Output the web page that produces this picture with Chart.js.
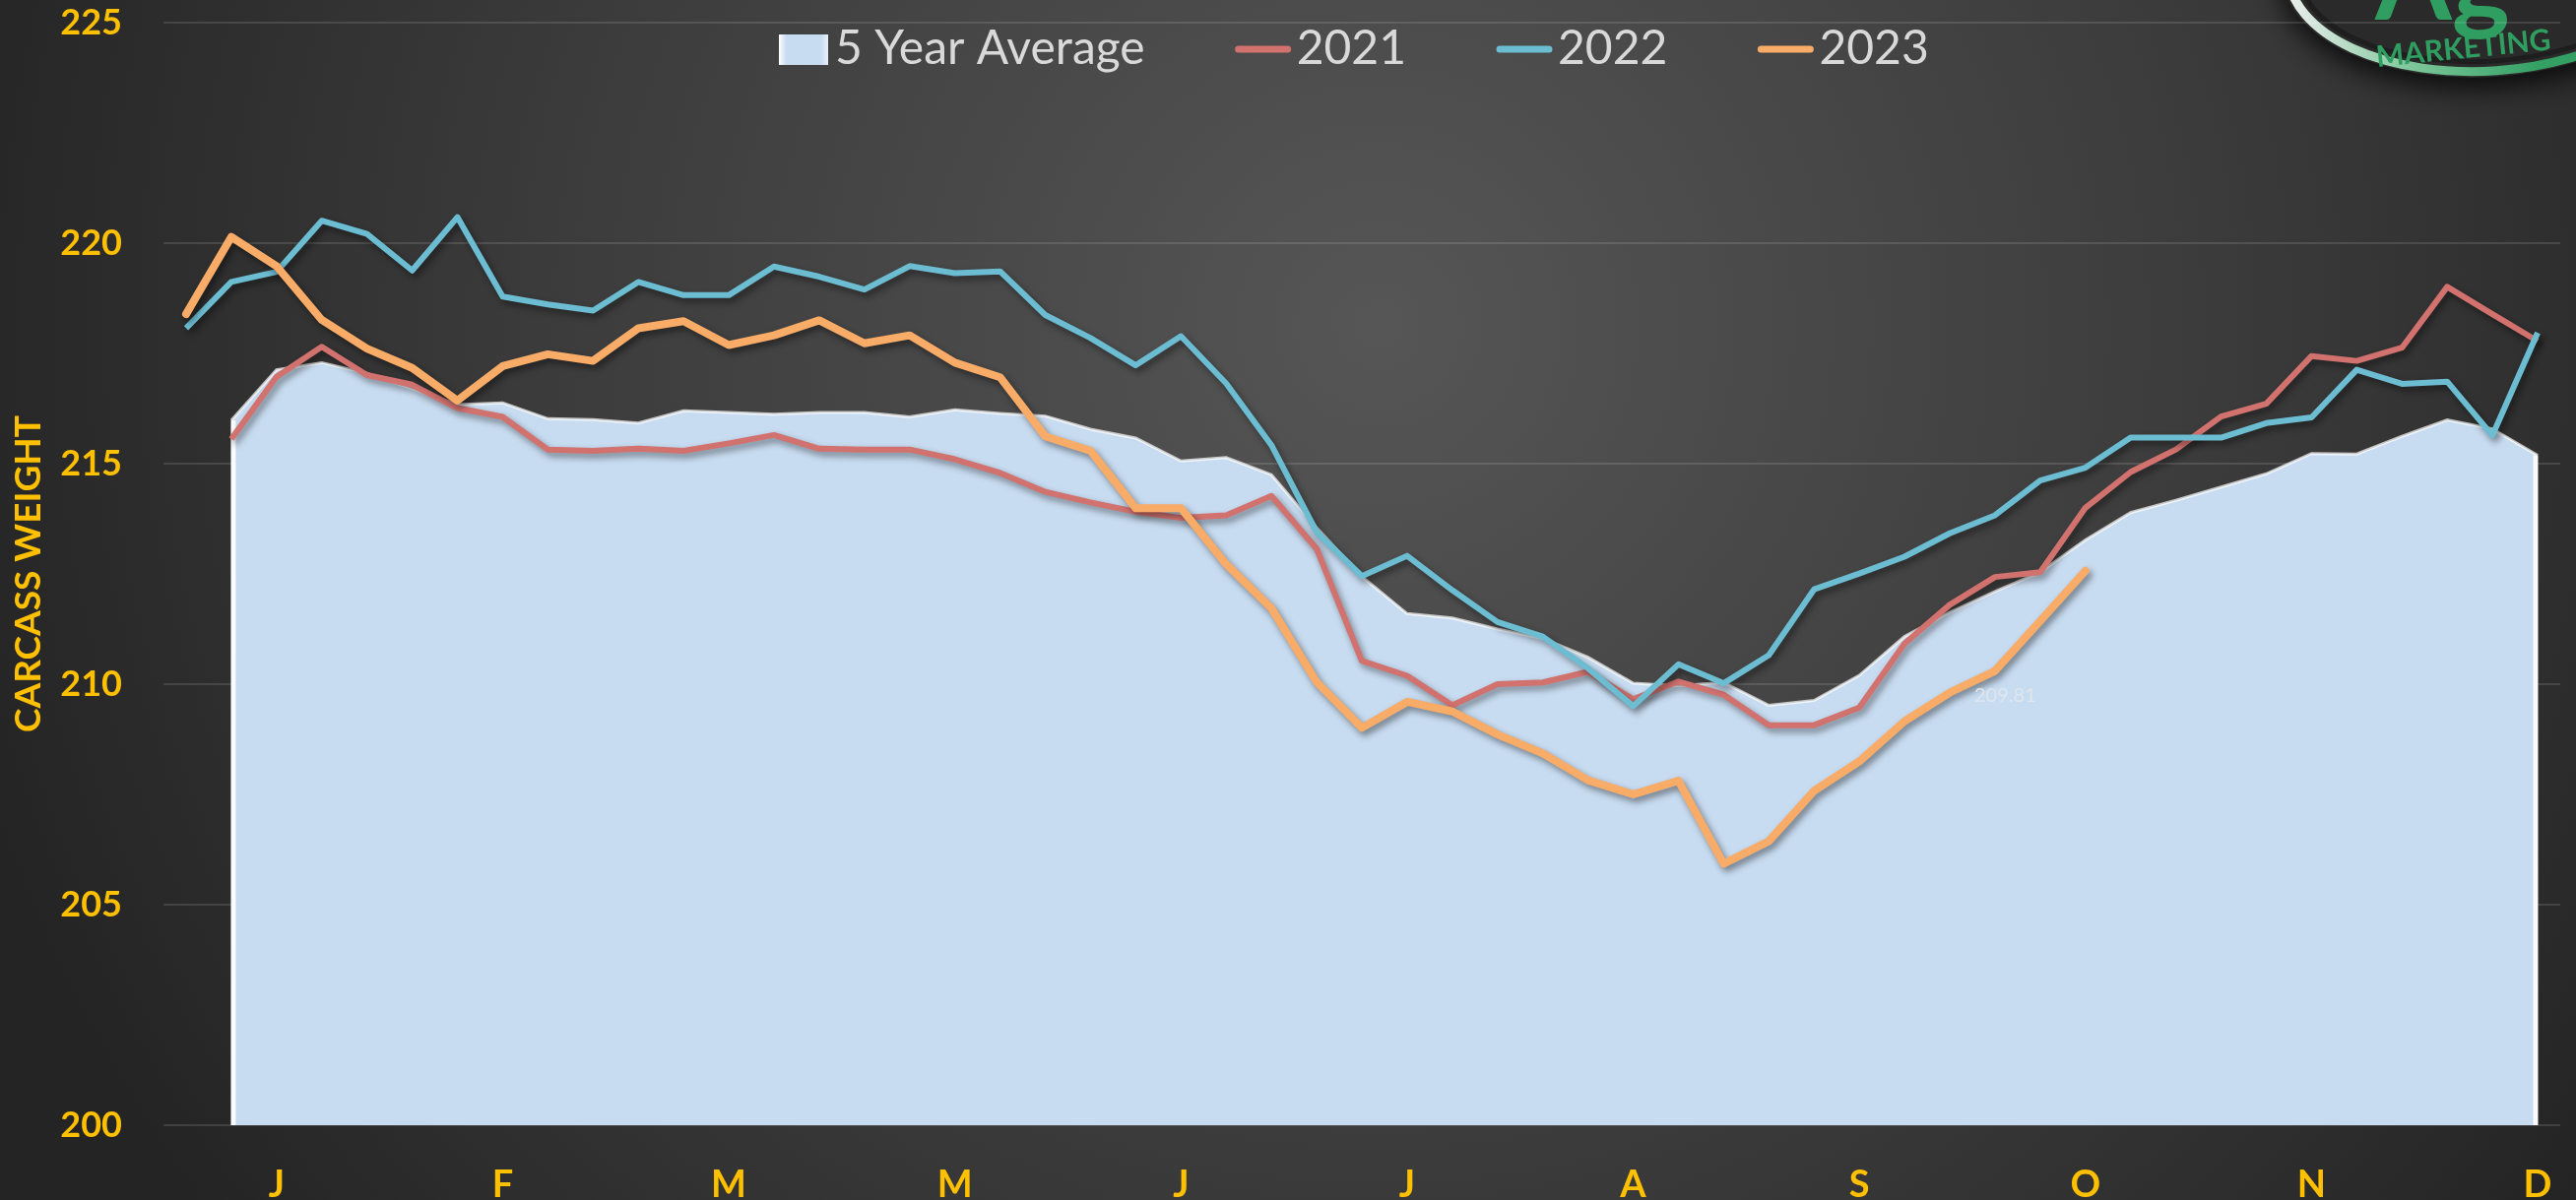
<!DOCTYPE html>
<html>
<head>
<meta charset="utf-8">
<script src="https://cdn.jsdelivr.net/npm/chart.js@4.4.0/dist/chart.umd.min.js"></script>
<style>
html,body{margin:0;padding:0;background:#2a2a2a;overflow:hidden}
#wrap{width:2616px;height:1219px;position:relative}
canvas{display:block}
</style>
</head>
<body>
<div id="wrap"><canvas id="c" width="2616" height="1219"></canvas></div>
<script>
// ---------- DATA ----------
const weeks = [1,2,3,4,5,6,7,8,9,10,11,12,13,14,15,16,17,18,19,20,21,22,23,24,25,26,27,28,29,30,31,32,33,34,35,36,37,38,39,40,41,42,43,44,45,46,47,48,49,50,51,52,53];
const monthTickLabels = ['J','F','M','M','J','J','A','S','O','N','D'];
const firstLabelIndex = 2;
const labelEvery = 5;
const yTicks = [200,205,210,215,220,225];
const seriesNames = ['5 Year Average','2021','2022','2023'];

const avg5 = [null,215.98,217.13,217.29,217.05,216.70,216.34,216.38,216.02,216.00,
  215.92,216.20,216.16,216.12,216.16,216.16,216.06,216.22,216.14,216.08,
  215.78,215.58,215.06,215.14,214.75,213.55,212.44,211.60,211.50,211.25,
  211.04,210.61,210.02,209.96,210.04,209.52,209.63,210.20,211.08,211.63,
  212.10,212.54,213.27,213.89,214.17,214.47,214.77,215.23,215.22,215.62,
  215.99,215.79,215.19];
const y2021 = [null,215.56,216.97,217.65,217.01,216.79,216.26,216.06,215.32,215.29,
  215.34,215.29,215.46,215.65,215.34,215.32,215.32,215.10,214.79,214.36,
  214.12,213.91,213.77,213.83,214.27,213.07,210.53,210.19,209.52,210.00,
  210.04,210.28,209.66,210.06,209.76,209.07,209.07,209.47,210.92,211.80,
  212.43,212.54,214.00,214.81,215.32,216.07,216.36,217.44,217.33,217.63,
  219.01,218.39,217.78];
const y2022 = [218.07,219.12,219.35,220.51,220.21,219.38,220.59,218.79,218.61,218.47,
  219.12,218.82,218.82,219.47,219.24,218.95,219.48,219.32,219.36,218.37,
  217.85,217.23,217.89,216.82,215.42,213.45,212.45,212.91,212.13,211.41,
  211.08,210.36,209.50,210.45,210.02,210.66,212.15,212.51,212.89,213.42,
  213.83,214.62,214.91,215.59,215.59,215.59,215.92,216.05,217.13,216.81,
  216.86,215.64,217.97];
const y2023 = [218.39,220.14,219.48,218.26,217.61,217.17,216.43,217.21,217.48,217.33,
  218.07,218.23,217.69,217.91,218.25,217.73,217.91,217.29,216.96,215.62,
  215.29,213.99,213.99,212.72,211.72,210.05,209.01,209.60,209.38,208.86,
  208.43,207.82,207.50,207.81,205.93,206.44,207.58,208.25,209.16,209.81,
  210.30,211.43,212.57,null,null,null,null,null,null,null,
  null,null,null];
const labelledPoints = [{series:'2023', index:39}];

// ---------- STYLE ----------
const GOLD = '#ffc000';
const FONT = "Lato, 'Open Sans', 'DejaVu Sans', sans-serif";
Chart.defaults.font.family = FONT;

const bgPlugin = {
  id:'bg',
  beforeDraw(chart){
    const ctx = chart.ctx, W = chart.width, H = chart.height;
    ctx.save();
    const g = ctx.createRadialGradient(1400, 330, 0, 1400, 330, 1500);
    g.addColorStop(0, '#565656');
    g.addColorStop(0.55, '#3c3c3c');
    g.addColorStop(1, '#242424');
    ctx.fillStyle = g;
    ctx.fillRect(0,0,W,H);
    // logo (partial, top-right)
    ctx.save();
    ctx.translate(2528, -40);
    ctx.rotate(-0.07);
    ctx.shadowColor = 'rgba(0,0,0,0.8)';
    ctx.shadowBlur = 28;
    ctx.shadowOffsetY = 10;
    ctx.beginPath();
    ctx.ellipse(0,0,212,118,0,0,Math.PI*2);
    ctx.fillStyle = '#2a2a2a';
    ctx.fill();
    ctx.shadowColor = 'transparent';
    const rg = ctx.createLinearGradient(-212,0,212,0);
    rg.addColorStop(0,'#f0f0f0');
    rg.addColorStop(0.3,'#7cc699');
    rg.addColorStop(0.6,'#34a064');
    rg.addColorStop(1,'#2f9a5f');
    ctx.beginPath();
    ctx.ellipse(0,0,205,112,0,0,Math.PI*2);
    ctx.lineWidth = 9;
    ctx.strokeStyle = rg;
    ctx.stroke();
    ctx.beginPath();
    ctx.ellipse(0,0,194,102,0,0,Math.PI*2);
    ctx.lineWidth = 5;
    ctx.strokeStyle = '#1e1e1e';
    ctx.stroke();
    ctx.restore();
    ctx.fillStyle = '#2f9e60';
    ctx.font = "bold 112px " + FONT;
    ctx.textBaseline = 'alphabetic';
    ctx.textAlign = 'left';
    ctx.fillText('Ag', 2412, 20);
    ctx.save();
    ctx.translate(2414, 68);
    ctx.rotate(-0.1);
    ctx.font = "bold 30px " + FONT;
    ctx.fillText('MARKETING', 0, 0);
    ctx.restore();
    ctx.restore();
  }
};

const shadowPlugin = {
  id:'lineShadow',
  beforeDatasetDraw(chart, args){
    const ctx = chart.ctx;
    ctx.save();
    if (args.index > 0) {
      ctx.shadowColor = 'rgba(0,0,0,0.45)';
      ctx.shadowBlur = 7;
      ctx.shadowOffsetX = 3;
      ctx.shadowOffsetY = 4;
    }
  },
  afterDatasetDraw(chart, args){
    const ctx = chart.ctx;
    ctx.restore();
    if (args.index === 0) {
      const meta = chart.getDatasetMeta(0);
      const pts = meta.data.filter((p,i)=>chart.data.datasets[0].data[i] !== null);
      const first = pts[0], last = pts[pts.length-1];
      const bottom = chart.chartArea.bottom;
      ctx.save();
      ctx.lineWidth = 5;
      ctx.strokeStyle = 'rgba(255,255,255,0.9)';
      ctx.beginPath();
      ctx.moveTo(first.x+2, first.y); ctx.lineTo(first.x+2, bottom);
      ctx.moveTo(last.x-2, last.y); ctx.lineTo(last.x-2, bottom);
      ctx.stroke();
      ctx.restore();
    }
  }
};

const legendPlugin = {
  id:'customLegend',
  afterDraw(chart){
    const ctx = chart.ctx;
    ctx.save();
    ctx.font = "48px " + FONT;
    ctx.textBaseline = 'middle';
    ctx.textAlign = 'left';
    let x = 791;
    const cy = 50;
    chart.data.datasets.forEach((ds, i) => {
      if (i === 0) {
        const g = ctx.createLinearGradient(x,0,x+50,0);
        g.addColorStop(0,'#ffffff'); g.addColorStop(0.15,'#c8dcf1');
        g.addColorStop(0.85,'#c8dcf1'); g.addColorStop(1,'#e8f0fa');
        ctx.fillStyle = g;
        ctx.fillRect(x, 35, 50, 31);
        x += 57;
      } else {
        ctx.strokeStyle = ds.borderColor;
        ctx.lineWidth = 7;
        ctx.lineCap = 'round';
        ctx.beginPath();
        ctx.moveTo(x+3, cy); ctx.lineTo(x+53, cy);
        ctx.stroke();
        x += 62;
      }
      ctx.fillStyle = '#d9d9d9';
      ctx.fillText(ds.label, x, cy);
      x += ctx.measureText(ds.label).width + 92;
    });
    ctx.restore();
  }
};

const labelPlugin = {
  id:'pointLabels',
  afterDatasetsDraw(chart){
    const ctx = chart.ctx;
    ctx.save();
    ctx.font = "20px " + FONT;
    ctx.fillStyle = '#dfe5ec';
    ctx.textBaseline = 'middle';
    ctx.textAlign = 'left';
    labelledPoints.forEach(lp => {
      const di = chart.data.datasets.findIndex(d => d.label === lp.series);
      const pt = chart.getDatasetMeta(di).data[lp.index];
      const v = chart.data.datasets[di].data[lp.index];
      ctx.fillText(v.toFixed(2), pt.x + 25, pt.y + 3);
    });
    ctx.restore();
  }
};

new Chart(document.getElementById('c').getContext('2d'), {
  type:'line',
  data:{
    labels: weeks,
    datasets:[
      {label:seriesNames[0], data:avg5, fill:'start', backgroundColor:'#c8dcf1',
       borderColor:'rgba(255,255,255,0.7)', borderWidth:3, pointRadius:0, order:4, tension:0},
      {label:seriesNames[1], data:y2021, fill:false, borderColor:'#d1726f', borderWidth:6,
       pointRadius:0, order:3, borderJoinStyle:'round'},
      {label:seriesNames[2], data:y2022, fill:false, borderColor:'#6cbcd2', borderWidth:6,
       pointRadius:0, order:2, borderJoinStyle:'round'},
      {label:seriesNames[3], data:y2023, fill:false, borderColor:'#f9ab68', borderWidth:8,
       pointRadius:0, order:1, borderJoinStyle:'round', borderCapStyle:'round'}
    ]
  },
  options:{
    responsive:false,
    animation:false,
    devicePixelRatio:1,
    layout:{padding:{top:23,right:16,bottom:0,left:0}},
    plugins:{legend:{display:false}, tooltip:{enabled:false}, title:{display:false}},
    scales:{
      x:{
        type:'category', offset:true,
        grid:{display:false, drawTicks:false},
        border:{display:false},
        ticks:{
          autoSkip:false, maxRotation:0, minRotation:0, padding:38,
          color:GOLD, font:{size:38, weight:'bold'},
          callback:(v,i)=> (i>=firstLabelIndex && (i-firstLabelIndex)%labelEvery===0) ? monthTickLabels[(i-firstLabelIndex)/labelEvery] : ''
        },
        afterFit(s){ s.height = 76; s.paddingLeft = 0; s.paddingRight = 0; }
      },
      y:{
        min:yTicks[0], max:yTicks[yTicks.length-1],
        afterBuildTicks(s){ s.ticks = yTicks.map(v=>({value:v})); },
        ticks:{padding:42, color:GOLD, font:{size:36, weight:'bold'}},
        grid:{color:'rgba(255,255,255,0.12)', lineWidth:2, drawTicks:false},
        border:{display:false},
        title:{display:true, text:'CARCASS WEIGHT', color:GOLD, font:{size:37, weight:'bold'}, padding:{top:7,bottom:0}},
        afterFit(s){ s.width = 166; s.paddingTop = 0; s.paddingBottom = 0; }
      }
    }
  },
  plugins:[bgPlugin, shadowPlugin, legendPlugin, labelPlugin]
});
</script>
</body>
</html>
